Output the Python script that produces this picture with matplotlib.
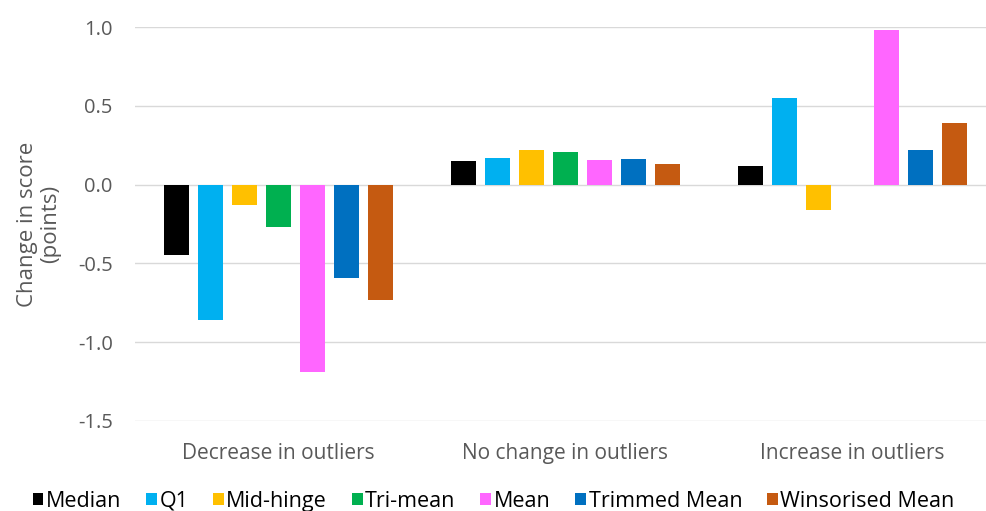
import matplotlib
matplotlib.use("Agg")
import matplotlib.pyplot as plt
import numpy as np

plt.rcParams['font.family'] = ['Open Sans', 'DejaVu Sans']

categories = ["Decrease in outliers", "No change in outliers", "Increase in outliers"]
series_names = ["Median", "Q1", "Mid-hinge", "Tri-mean", "Mean", "Trimmed Mean", "Winsorised Mean"]
median = [-0.45, 0.15, 0.12]
q1 = [-0.86, 0.17, 0.55]
mid_hinge = [-0.13, 0.22, -0.16]
tri_mean = [-0.27, 0.21, 0.0]
mean = [-1.19, 0.155, 0.985]
trimmed_mean = [-0.59, 0.16, 0.22]
winsorised_mean = [-0.73, 0.13, 0.39]
yticks = [-1.5, -1.0, -0.5, 0.0, 0.5, 1.0]

series = [median, q1, mid_hinge, tri_mean, mean, trimmed_mean, winsorised_mean]
colors = ["#000000", "#00b0f0", "#ffc000", "#00b050", "#ff66ff", "#0070c0", "#c55a11"]

fig = plt.figure(figsize=(9.87, 5.11), dpi=100)
ax = fig.add_axes([135/987, 1 - 420.7/511, (996 - 135)/987, (420.7 - 27.3)/511])

x = np.arange(len(categories))
step = 0.1185
width = 0.09
for i, (vals, c, name) in enumerate(zip(series, colors, series_names)):
    ax.bar(x + (i - 3) * step, vals, width, color=c, label=name, zorder=3)

ax.set_xlim(-0.5, 2.5)
ax.set_ylim(-1.5, 1.0)
ax.set_yticks(yticks)
ax.set_yticklabels([f"{t:.1f}" for t in yticks])
ax.set_xticks(x)
ax.set_xticklabels(categories)
ax.yaxis.grid(True, color="#d9d9d9", linewidth=1.0, zorder=0)
ax.set_axisbelow(True)
for s in ax.spines.values():
    s.set_visible(False)
ax.tick_params(axis="both", length=0, colors="#595959")
ax.tick_params(axis="y", pad=16, labelsize=14.5)
ax.tick_params(axis="x", pad=16, labelsize=15)
ax.set_ylabel("Change in score\n(points)", color="#595959", fontsize=16, labelpad=12, linespacing=1.15)

handles, labels = ax.get_legend_handles_labels()
fig.legend(handles, labels, loc="center", bbox_to_anchor=(0.5, 1 - 501/511), ncol=7,
           frameon=False, fontsize=15.5, handlelength=0.5, handleheight=0.5,
           handletextpad=0.12, columnspacing=1.15, labelcolor="#000000")

fig.savefig("out.png", dpi=100)
